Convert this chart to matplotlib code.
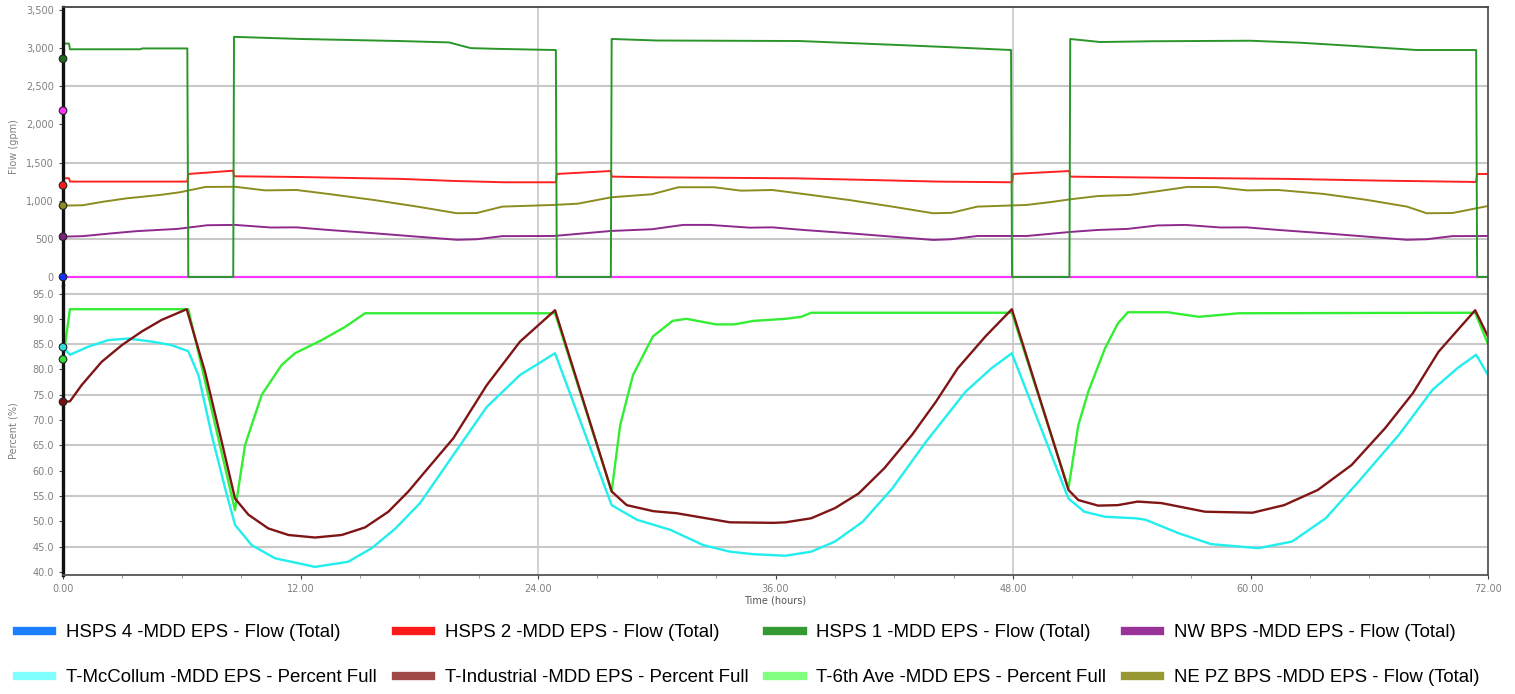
import numpy as np
import matplotlib
matplotlib.use('Agg')
import matplotlib.pyplot as plt
from matplotlib.lines import Line2D
from matplotlib.ticker import MultipleLocator, FuncFormatter

# ---- flow series (gpm) ----
t_hsps1 = [0, 0.3, 0.35, 3.9, 4.0, 6.28, 6.33, 8.6, 8.64, 12, 17, 19.5, 20.6, 22, 24.9, 24.95,
           27.68, 27.72, 30, 37.2, 42.3, 45, 47.9, 47.95, 50.85, 50.89, 52.4, 55, 60, 62.5, 65, 68.4, 71.4, 71.45, 72]
v_hsps1 = [3060, 3060, 2985, 2985, 2996, 2996, 0, 0, 3148, 3120, 3093, 3075, 3000, 2990, 2975, 0,
           0, 3120, 3100, 3093, 3040, 3010, 2975, 0, 0, 3120, 3080, 3090, 3097, 3071, 3032, 2975, 2975, 0, 0]

t_hsps2 = [0, 0.3, 0.35, 6.28, 6.33, 8.6, 8.64, 12, 17.1, 19.8, 22.3, 24.9, 24.95, 27.68, 27.72,
           30, 37, 40.8, 44.2, 47.95, 48.0, 50.85, 50.89, 56, 62, 66, 71.4, 71.45, 72]
v_hsps2 = [1294, 1294, 1250, 1250, 1350, 1393, 1320, 1310, 1285, 1258, 1241, 1241, 1350, 1389, 1315,
           1306, 1293, 1271, 1250, 1241, 1350, 1389, 1315, 1300, 1285, 1265, 1245, 1350, 1350]

t_nepz = [0, 1, 2, 3.2, 4.9, 5.9, 7.2, 8.7, 10.2, 11.8, 13.4, 15.7, 17.9, 19.9, 20.9, 22.2, 24.8,
          26, 27.7, 29.75, 31.1, 32.9, 34.26, 35.84, 37.4, 39.7, 41.9, 43.96, 44.87, 46.2, 48.7,
          50, 50.9, 52.3, 53.9, 55.2, 56.8, 58.3, 59.8, 61.4, 63.7, 65.9, 67.9, 68.9, 70.2, 72]
v_nepz = [935, 940, 985, 1030, 1075, 1110, 1180, 1182, 1135, 1140, 1088, 1009, 922, 835, 838, 922, 944,
          960, 1044, 1084, 1176, 1176, 1131, 1140, 1088, 1009, 922, 835, 840, 922, 944,
          985, 1018, 1061, 1075, 1120, 1180, 1178, 1135, 1140, 1088, 1009, 922, 835, 838, 930]

t_nw = [0, 1, 2.4, 3.7, 5.8, 7.3, 8.7, 10.5, 11.8, 13.4, 15.7, 17.9, 19.9, 20.9, 22.2, 24.8,
        27.7, 29.75, 31.33, 32.68, 34.7, 35.84, 37.4, 39.7, 41.9, 43.96, 44.87, 46.2, 48.7,
        50.9, 52.3, 53.8, 55.3, 56.7, 58.5, 59.8, 61.4, 63.7, 65.9, 67.9, 68.9, 70.2, 72]
v_nw = [528, 535, 570, 600, 630, 678, 682, 648, 650, 616, 573, 528, 487, 494, 535, 537,
        603, 625, 682, 682, 646, 650, 616, 573, 528, 485, 494, 537, 537,
        590, 616, 630, 675, 682, 648, 650, 616, 573, 528, 487, 494, 535, 537]

t_hsps4 = [0, 72]
v_hsps4 = [0, 0]
t_pink = [0, 72]
v_pink = [0, 0]

# ---- tank levels (%) ----
t_6th = [0, 0.35, 6.33, 8.69, 9.2, 10.04, 11.05, 11.72, 13.07, 14.25, 15.26, 24.86, 27.72, 28.15, 28.8,
         29.8, 30.8, 31.5, 33.0, 33.9, 34.9, 36.5, 37.3, 37.8, 47.94, 50.8, 51.3, 51.8, 52.65, 53.3,
         53.8, 55.8, 57.4, 59.4, 71.35, 72]
v_6th = [82.0, 91.9, 91.9, 52.2, 65.1, 75.0, 80.9, 83.2, 85.8, 88.4, 91.1, 91.1, 55.9, 69.0, 78.9,
         86.5, 89.6, 90.0, 88.9, 88.9, 89.6, 90.0, 90.4, 91.2, 91.2, 56.5, 69.0, 75.6, 84.2, 89.1,
         91.3, 91.3, 90.4, 91.1, 91.2, 85.0]

t_ind = [0, 0.35, 0.94, 1.95, 2.97, 3.98, 4.99, 6.25, 7.17, 8.02, 8.69, 9.37, 10.37, 11.39, 12.73,
         14.08, 15.26, 16.44, 17.45, 18.29, 19.72, 21.41, 23.09, 24.86, 27.72, 28.48, 29.83, 31.0,
         32.5, 33.7, 35.9, 36.5, 37.8, 39.0, 40.2, 41.5, 42.9, 44.1, 45.2, 46.6, 47.94, 50.8, 51.3,
         52.3, 53.3, 54.3, 55.5, 57.7, 60.1, 61.7, 63.4, 65.1, 66.8, 68.2, 69.5, 71.35, 72]
v_ind = [73.6, 73.7, 76.9, 81.5, 84.8, 87.5, 89.8, 91.9, 79.6, 65.7, 54.5, 51.3, 48.6, 47.3, 46.8,
         47.3, 48.8, 51.9, 55.9, 59.8, 66.4, 76.9, 85.5, 91.7, 55.9, 53.2, 52.0, 51.6,
         50.6, 49.8, 49.7, 49.8, 50.6, 52.6, 55.5, 60.5, 67.1, 73.6, 80.2, 86.5, 91.9, 56.2, 54.2,
         53.1, 53.2, 53.9, 53.6, 51.9, 51.7, 53.2, 56.2, 61.1, 68.4, 75.3, 83.5, 91.7, 86.5]

t_mcc = [0, 0.35, 1.28, 2.29, 3.3, 4.48, 5.49, 6.33, 6.84, 7.51, 8.19, 8.69, 9.53, 10.71, 12.73,
         14.4, 15.6, 16.8, 18.04, 19.72, 21.41, 23.09, 24.86, 27.72, 29.0, 30.7, 32.35, 33.7, 34.9,
         36.5, 37.8, 39.0, 40.4, 41.9, 43.6, 45.6, 46.9, 47.94, 50.8, 51.6, 52.65, 54.2, 54.7, 56.4,
         58.0, 60.4, 62.1, 63.8, 65.45, 67.5, 69.2, 70.5, 71.4, 72]
v_mcc = [84.4, 82.9, 84.5, 85.8, 86.1, 85.5, 84.8, 83.6, 78.9, 67.1, 56.5, 49.3, 45.3, 42.7, 41.0,
         42.0, 44.7, 48.6, 53.6, 63.1, 72.6, 78.9, 83.2, 53.2, 50.3, 48.3, 45.3, 44.0, 43.5,
         43.2, 44.0, 46.0, 49.9, 56.5, 65.7, 75.6, 80.2, 83.2, 54.5, 51.9, 50.9, 50.6, 50.3, 47.6,
         45.5, 44.7, 46.0, 50.6, 57.8, 67.1, 76.0, 80.4, 82.9, 78.9]

# start markers
flow_marks = [2860, 2180, 1200, 935, 528, 0]
flow_mark_cols = ['#1f6b1f', '#ff33ff', '#ff1a1a', '#8c8c20', '#7a1f7a', '#1030ff']
pct_marks = [84.4, 82.0, 73.6]
pct_mark_cols = ['#33dddd', '#33dd33', '#7a1010']

grid_c = '#c8c8c8'
lab_c = '#808080'

fig = plt.figure(figsize=(15.15, 6.94), dpi=100)
ax1 = fig.add_axes([0.0416, 0.588, 0.9406, 0.402])
ax2 = fig.add_axes([0.0416, 0.1715, 0.9406, 0.4165])

# gridlines
for y in [500, 1500, 2500]:
    ax1.axhline(y, color=grid_c, lw=1.5, zorder=0)
for y in [45, 55, 65, 75, 85, 95]:
    ax2.axhline(y, color=grid_c, lw=1.5, zorder=0)
for ax in (ax1, ax2):
    for x in [24, 48]:
        ax.axvline(x, color=grid_c, lw=1.2, zorder=0)

ax1.plot(t_hsps4, v_hsps4, color='#1a75ff', lw=1.5)
ax1.plot(t_pink, v_pink, color='#ff33ff', lw=1.5)
ax1.plot(t_nw, v_nw, color='#8e2a8e', lw=1.4)
ax1.plot(t_nepz, v_nepz, color='#8c8c20', lw=1.4)
ax1.plot(t_hsps2, v_hsps2, color='#ff2020', lw=1.4)
ax1.plot(t_hsps1, v_hsps1, color='#2a962a', lw=1.4)
ax1.scatter([0] * len(flow_marks), flow_marks, s=30, c=flow_mark_cols, edgecolors='#222222',
            linewidths=0.8, zorder=5, clip_on=False)

ax2.plot(t_6th, v_6th, color='#33ee33', lw=1.7)
ax2.plot(t_mcc, v_mcc, color='#22eeee', lw=1.7)
ax2.plot(t_ind, v_ind, color='#801515', lw=1.7)
ax2.scatter([0] * len(pct_marks), pct_marks, s=30, c=pct_mark_cols, edgecolors='#222222',
            linewidths=0.8, zorder=5, clip_on=False)

ax1.set_xlim(0, 72)
ax2.set_xlim(0, 72)
ax1.set_ylim(-118, 3540)
ax2.set_ylim(39.4, 96.5)

ax1.set_yticks(np.arange(0, 3501, 500))
ax1.yaxis.set_major_formatter(FuncFormatter(lambda v, p: f'{int(v):,}'))
ax2.set_yticks(np.arange(40, 95.1, 5))
ax2.yaxis.set_major_formatter(FuncFormatter(lambda v, p: f'{v:.1f}'))
ax1.set_xticks([])
ax2.set_xticks(np.arange(0, 73, 12))
ax2.xaxis.set_minor_locator(MultipleLocator(3))
ax2.xaxis.set_major_formatter(FuncFormatter(lambda v, p: f'{v:.2f}'))

for ax in (ax1, ax2):
    ax.tick_params(axis='both', labelsize=7, labelcolor=lab_c, color='#444444', length=3, width=0.8)
    ax.tick_params(axis='x', which='minor', length=2, color='#888888')
    ax.spines['left'].set_color('#111111')
    ax.spines['left'].set_linewidth(2.4)
    ax.spines['right'].set_color('#555555')
    ax.spines['right'].set_linewidth(1.3)
ax1.spines['bottom'].set_visible(False)
ax2.spines['top'].set_visible(False)
ax1.spines['top'].set_color('#444444')
ax1.spines['top'].set_linewidth(1.3)
ax2.spines['bottom'].set_color('#555555')
ax2.spines['bottom'].set_linewidth(1.3)

ax1.set_ylabel('Flow (gpm)', fontsize=7, color=lab_c)
ax1.yaxis.set_label_coords(-0.031, 0.5)
ax2.set_ylabel('Percent (%)', fontsize=7, color=lab_c)
ax2.yaxis.set_label_coords(-0.031, 0.5)
ax2.set_xlabel('Time (hours)', fontsize=7, color='#555555', labelpad=1)

# legend (column-wise order so rows read left to right)
labels = ['HSPS 4 -MDD EPS - Flow (Total)', 'T-McCollum -MDD EPS - Percent Full',
          'HSPS 2 -MDD EPS - Flow (Total)', 'T-Industrial -MDD EPS - Percent Full',
          'HSPS 1 -MDD EPS - Flow (Total)', 'T-6th Ave -MDD EPS - Percent Full',
          'NW BPS -MDD EPS - Flow (Total)', 'NE PZ BPS -MDD EPS - Flow (Total)']
leg_cols = ['#1a80ff', '#80ffff', '#ff1a1a', '#a04848', '#339933', '#80ff80', '#993399', '#999933']
handles = [Line2D([], [], color=c, lw=6) for c in leg_cols]
fig.legend(handles, labels, loc='center', bbox_to_anchor=(0.494, 0.056), ncol=4, frameon=False,
           prop={'family': 'Liberation Sans', 'size': 13.4}, handlelength=1.9, handletextpad=0.75,
           columnspacing=1.0, labelspacing=1.5, borderpad=0)

fig.savefig('out.png', dpi=100)
